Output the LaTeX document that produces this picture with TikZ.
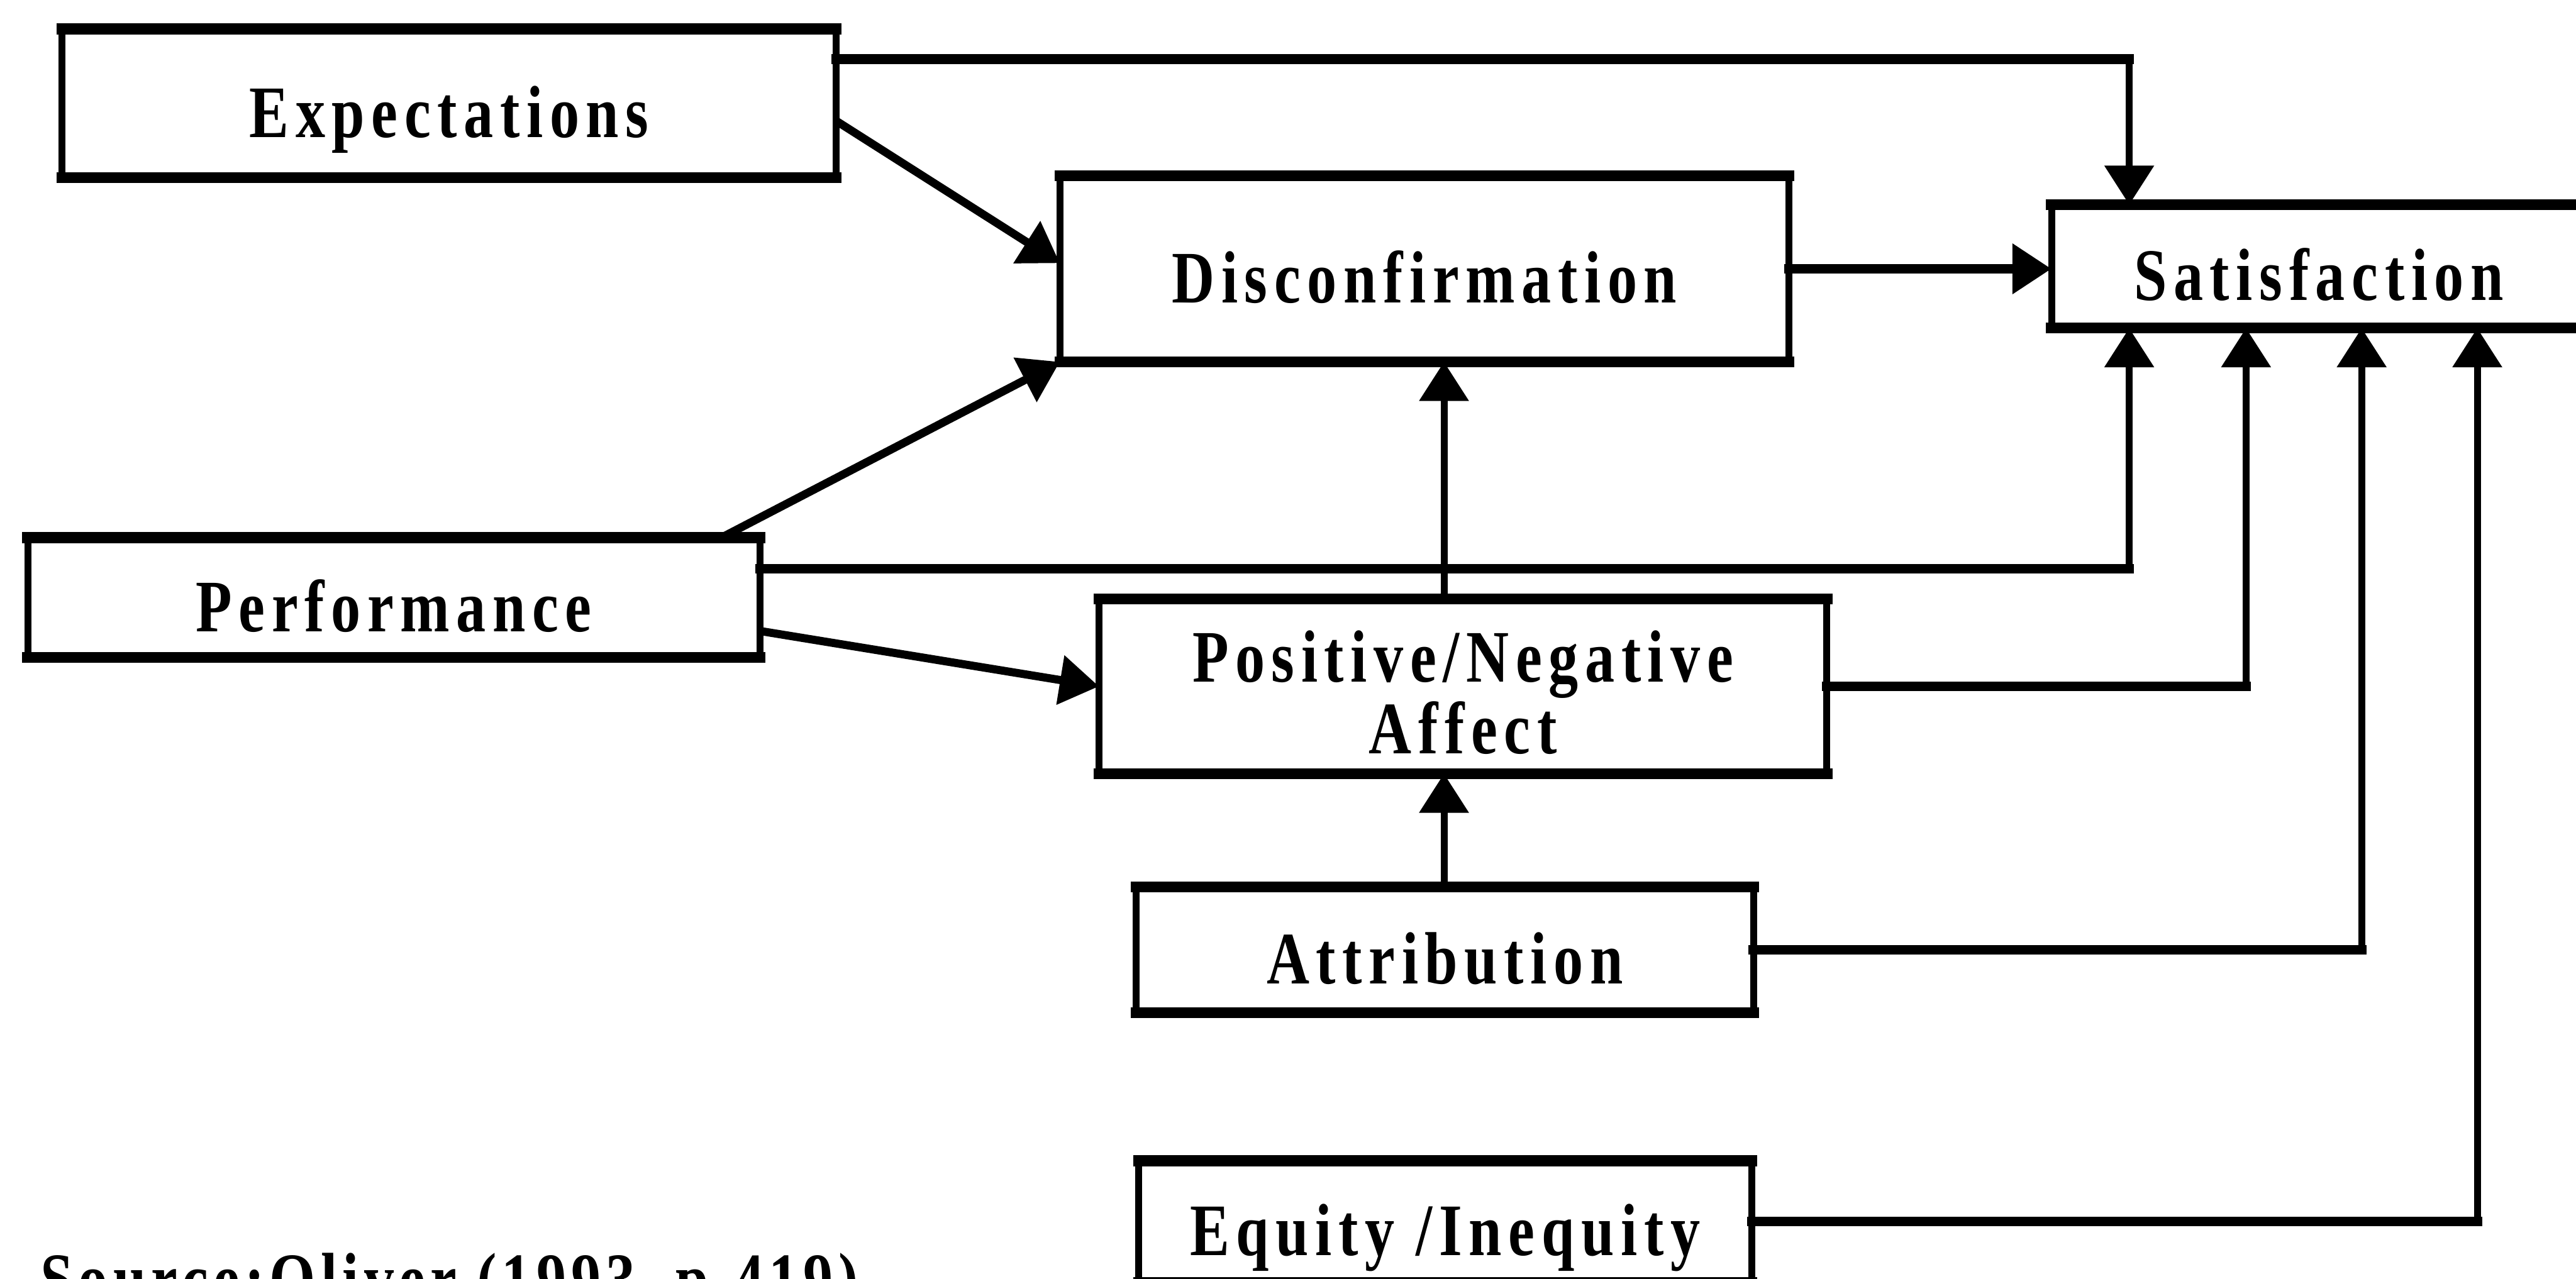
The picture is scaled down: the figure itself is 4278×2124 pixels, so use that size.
\documentclass[tikz,border=0pt]{standalone}
\usepackage{fontspec}
\setmainfont{Liberation Serif}[FakeStretch=0.8, LetterSpace=9]
\newfontfamily\srcfont{Liberation Serif}[FakeStretch=0.8, LetterSpace=7]
\usetikzlibrary{arrows.meta,calc}
\tikzset{
  box/.style={draw=none, inner sep=0pt, align=center,
    font=\bfseries\fontsize{12.3}{11.9}\selectfont,
    text height=11.3pt, text depth=0pt},
  hedge/.style={line width=1.8pt, line cap=rect},
  vedge/.style={line width=1.15pt, line cap=rect},
  hcon/.style={line width=1.6pt, line cap=rect},
  vcon/.style={line width=1.15pt},
  dcon/.style={line width=1.35pt},
  tip/.style={-{Triangle[length=6.5pt,width=8pt]}},
}
\newcommand{\boxedges}[1]{%
  \draw[hedge] (#1.north west) -- (#1.north east);
  \draw[hedge] (#1.south west) -- (#1.south east);
  \draw[vedge] (#1.north west) -- (#1.south west);
  \draw[vedge] (#1.north east) -- (#1.south east);}
\begin{document}
\begin{tikzpicture}[x=0.1pt,y=-0.1pt]
\useasboundingbox (0,0) rectangle (4278,2124);
\fill[white] (0,0) rectangle (4278,2124);
\clip (0,0) rectangle (4278,2124);

\node[box, minimum width=128.2pt, minimum height=24.3pt] (exp) at (746,171.5) {Expectations};
\node[box, minimum width=120.7pt, minimum height=30.5pt] (dis) at (2365.5,446.5) {Disconfirmation};
\node[box, minimum width=88.4pt, minimum height=20.1pt] (sat) at (3851,442.5) {Satisfaction};
\node[box, minimum width=121.2pt, minimum height=19.5pt] (perf) at (654,992.5) {Performance};
\node[box, minimum width=120.5pt, minimum height=28.6pt, text height=22.4pt, text depth=0pt] (pos) at (2429.5,1140) {Positive/Negative\\Affect};
\node[box, minimum width=102.1pt, minimum height=20.5pt] (att) at (2399.5,1577.5) {Attribution};
\node[box, minimum width=101.4pt, minimum height=19.8pt] (equ) at (2400,2029) {Equity /Inequity};
\node[inner sep=0pt, anchor=base west, font=\srcfont\bfseries\fontsize{12.3}{11.9}\selectfont] (src) at (65,2167) {Source:Oliver (1993, p.419)};

\boxedges{exp}
\boxedges{dis}
\boxedges{sat}
\boxedges{perf}
\boxedges{pos}
\boxedges{att}
\boxedges{equ}

\coordinate (c1) at ($(sat.south west)+(129,0)$);
\coordinate (c2) at ($(sat.south west)+(323,0)$);
\coordinate (c3) at ($(sat.south west)+(515,0)$);
\coordinate (c4) at ($(sat.south west)+(707,0)$);
\coordinate (v) at ($(dis.south west)+(638,0)$);

% Expectations -> Satisfaction (top)
\coordinate (e1) at ($(exp.north east)+(0,50)$);
\draw[hcon] (e1) -- (e1 -| c1);
\draw[vcon,tip] (e1 -| c1) -- (c1 |- sat.north);
% Expectations -> Disconfirmation
\draw[dcon,tip] ($(exp.north east)+(0,153)$) -- ($(dis.north west)+(0,145)$);
% Disconfirmation -> Satisfaction
\draw[hcon,tip] (dis.east) -- (dis.east -| sat.west);
% Performance -> Disconfirmation
\draw[dcon,tip] ($(perf.north west)+(1152,0)$) -- (dis.south west);
% Performance -> Satisfaction
\coordinate (p1) at ($(perf.north east)+(0,52)$);
\draw[hcon] (p1) -- (p1 -| c1);
\draw[vcon,tip] (p1 -| c1) -- (c1);
% Performance -> Positive/Negative Affect
\draw[dcon,tip] ($(perf.north east)+(0,155)$) -- (pos.west);
% Positive/Negative Affect -> Disconfirmation
\draw[vcon,tip] (v |- pos.north) -- (v);
% Positive/Negative Affect -> Satisfaction
\draw[hcon] (pos.east) -- (pos.east -| c2);
\draw[vcon,tip] (pos.east -| c2) -- (c2);
% Attribution -> Positive/Negative Affect
\draw[vcon,tip] (v |- att.north) -- (v |- pos.south);
% Attribution -> Satisfaction
\draw[hcon] (att.east) -- (att.east -| c3);
\draw[vcon,tip] (att.east -| c3) -- (c3);
% Equity -> Satisfaction
\draw[hcon] (equ.east) -- (equ.east -| c4);
\draw[vcon,tip] (equ.east -| c4) -- (c4);
\end{tikzpicture}
\end{document}
